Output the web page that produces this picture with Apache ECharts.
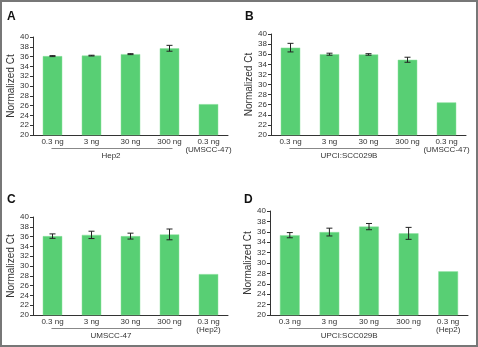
<!DOCTYPE html>
<html>
<head>
<meta charset="utf-8">
<script src="https://cdn.jsdelivr.net/npm/echarts@6/dist/echarts.min.js"></script>
<style>
  html, body { margin: 0; padding: 0; background: #fff; }
  #ct-chart { width: 478px; height: 347px; }
</style>
</head>
<body>
<div id="ct-chart"></div>
<script>
const panelLetters = ['A', 'B', 'C', 'D'];
const groupNames = ['Hep2', 'UPCI:SCC029B', 'UMSCC-47', 'UPCI:SCC029B'];

const categoriesA = ['0.3 ng', '3 ng', '30 ng', '300 ng', '0.3 ng\n(UMSCC-47)'];
const categoriesB = ['0.3 ng', '3 ng', '30 ng', '300 ng', '0.3 ng\n(UMSCC-47)'];
const categoriesC = ['0.3 ng', '3 ng', '30 ng', '300 ng', '0.3 ng\n(Hep2)'];
const categoriesD = ['0.3 ng', '3 ng', '30 ng', '300 ng', '0.3 ng\n(Hep2)'];

const valuesA = [36.1, 36.2, 36.5, 37.7, 26.3];
const valuesB = [37.3, 36.0, 35.95, 34.9, 26.45];
const valuesC = [36.1, 36.35, 36.1, 36.45, 28.35];
const valuesD = [35.35, 35.95, 37.0, 35.7, 28.4];

const errorsA = [0.1, 0.08, 0.1, 0.6, 0];
const errorsB = [0.85, 0.2, 0.15, 0.5, 0];
const errorsC = [0.45, 0.75, 0.6, 1.1, 0];
const errorsD = [0.5, 0.75, 0.6, 1.15, 0];

const yMin = 20;
const yMax = 40;
const yStep = 2;

const categories = [categoriesA, categoriesB, categoriesC, categoriesD];
const values = [valuesA, valuesB, valuesC, valuesD];
const errors = [errorsA, errorsB, errorsC, errorsD];

const grids = [
  { left: 33, top: 37, width: 195, height: 98 },
  { left: 271, top: 34, width: 195, height: 101 },
  { left: 33, top: 217, width: 195, height: 98 },
  { left: 270, top: 211, width: 198, height: 104 }
];

const letterPos = [[7, 11], [245, 11], [7, 194], [244, 194]];

const axisColor = '#333';
const barColor = '#58cf74';

const ctChart = echarts.init(document.getElementById('ct-chart'));

function renderErrorBar(params, api) {
  const x = api.value(0);
  const v = api.value(1);
  const e = api.value(2);
  if (!e) return null;
  const hi = api.coord([x, v + e]);
  const lo = api.coord([x, v - e]);
  const cap = 3;
  const style = { stroke: '#222', lineWidth: 1 };
  return {
    type: 'group',
    children: [
      { type: 'line', shape: { x1: hi[0], y1: hi[1], x2: lo[0], y2: lo[1] }, style },
      { type: 'line', shape: { x1: hi[0] - cap, y1: hi[1], x2: hi[0] + cap, y2: hi[1] }, style },
      { type: 'line', shape: { x1: lo[0] - cap, y1: lo[1], x2: lo[0] + cap, y2: lo[1] }, style }
    ]
  };
}

const xAxes = categories.map((cats, i) => ({
  type: 'category',
  gridIndex: i,
  data: cats,
  axisLine: { lineStyle: { color: axisColor } },
  axisTick: { length: 3, lineStyle: { color: axisColor } },
  axisLabel: {
    interval: 0,
    margin: 3,
    fontSize: 8,
    lineHeight: 8,
    color: '#333',
    fontFamily: 'Liberation Sans'
  }
}));

const yAxes = grids.map((g, i) => ({
  type: 'value',
  gridIndex: i,
  min: yMin,
  max: yMax,
  interval: yStep,
  name: 'Normalized Ct',
  nameLocation: 'middle',
  nameGap: 17,
  nameTextStyle: { fontSize: 10, color: '#333', fontFamily: 'Liberation Sans' },
  axisLine: { show: true, lineStyle: { color: axisColor } },
  axisTick: { show: true, length: 3, lineStyle: { color: axisColor } },
  splitLine: { show: false },
  axisLabel: { margin: 4, fontSize: 8, color: '#333', fontFamily: 'Liberation Sans' }
}));

const series = [];
values.forEach((vals, i) => {
  series.push({
    type: 'bar',
    xAxisIndex: i,
    yAxisIndex: i,
    data: vals,
    barWidth: '50%',
    itemStyle: { color: barColor, borderColor: '#8de09f', borderWidth: 0.5 },
    silent: true
  });
  series.push({
    type: 'custom',
    xAxisIndex: i,
    yAxisIndex: i,
    renderItem: renderErrorBar,
    data: vals.map((v, j) => [j, v, errors[i][j]]),
    z: 10,
    silent: true
  });
});

const option = {
  animation: false,
  grid: grids,
  xAxis: xAxes,
  yAxis: yAxes,
  series: series
};

ctChart.setOption(option);

// frame, panel letters, brackets + group names under the first four categories
const extras = [
  {
    type: 'rect',
    shape: { x: 1, y: 1, width: 476, height: 345 },
    style: { fill: 'none', stroke: '#777', lineWidth: 2 },
    silent: true
  }
];
panelLetters.forEach((letter, i) => {
  extras.push({
    type: 'text',
    x: letterPos[i][0],
    y: letterPos[i][1],
    style: {
      text: letter,
      fontSize: 12,
      fontWeight: 'bold',
      fill: '#111',
      fontFamily: 'Liberation Sans'
    }
  });
  const first = ctChart.convertToPixel({ gridIndex: i }, [0, yMin]);
  const last = ctChart.convertToPixel({ gridIndex: i }, [3, yMin]);
  extras.push({
    type: 'line',
    shape: { x1: first[0] - 1, y1: first[1] + 13.5, x2: last[0] + 3, y2: last[1] + 13.5 },
    style: { stroke: '#888', lineWidth: 1 }
  });
  extras.push({
    type: 'text',
    x: (first[0] + last[0]) / 2,
    y: first[1] + 21,
    style: {
      text: groupNames[i],
      fontSize: 8,
      fill: '#333',
      align: 'center',
      verticalAlign: 'middle',
      fontFamily: 'Liberation Sans'
    }
  });
});

ctChart.setOption({ graphic: extras });
</script>
</body>
</html>
